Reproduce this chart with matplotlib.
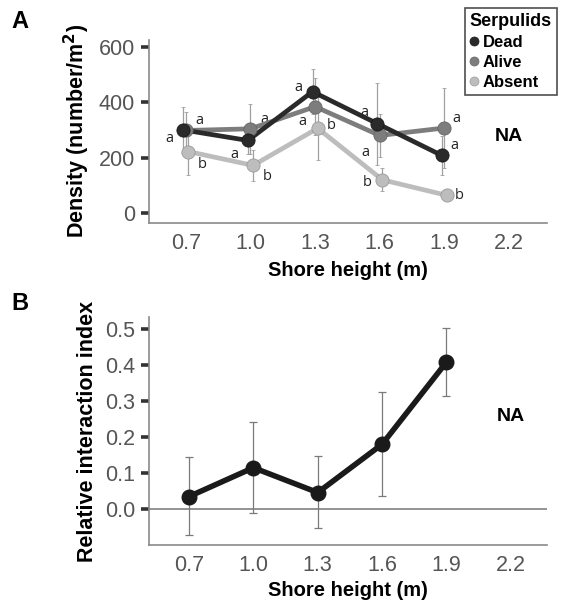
import matplotlib
matplotlib.use("Agg")
import matplotlib.pyplot as plt
from matplotlib.lines import Line2D

plt.rcParams['font.family'] = ['Liberation Sans', 'DejaVu Sans']

# shore heights (m)
heights = [0.7, 1.0, 1.3, 1.6, 1.9]
tick_heights = [0.7, 1.0, 1.3, 1.6, 1.9, 2.2]

# panel A: density (number/m2) and error
dead = [300, 262, 438, 323, 208]
dead_err = [82, 50, 82, 148, 70]
alive = [298, 304, 384, 280, 307]
alive_err = [66, 90, 102, 78, 145]
absent = [222, 172, 306, 120, 64]
absent_err = [85, 57, 114, 42, 6]

dead_letters = ['a', 'a', 'a', 'a', 'a']
alive_letters = ['a', 'a', 'a', 'a', 'a']
absent_letters = ['b', 'b', 'b', 'b', 'b']

# panel B: relative interaction index with lower / upper error bounds
rii = [0.035, 0.115, 0.046, 0.180, 0.408]
rii_low = [-0.071, -0.012, -0.053, 0.037, 0.313]
rii_high = [0.144, 0.241, 0.148, 0.324, 0.503]

# label offsets in points (style only)
dead_off = [(-10, -6), (-10, -10), (-10, 3), (-9, 8), (9, 7)]
alive_off = [(10, 7), (10, 7), (-9, -11), (-10, -12), (9, 7)]
absent_off = [(10, -9), (10, -8), (10, 2), (-11, -2), (9, 0)]

fig = plt.figure(figsize=(5.7, 6.03), dpi=100)
ax1 = fig.add_axes([0.261, 0.630, 0.699, 0.304])
ax2 = fig.add_axes([0.261, 0.096, 0.699, 0.378])

spine_col = '#8a8a8a'
tick_lbl = '#555555'

series = [
    ('Dead', dead, dead_err, dead_letters, dead_off, '#2a2a2a', '#1a1a1a', -0.012),
    ('Alive', alive, alive_err, alive_letters, alive_off, '#7d7d7d', '#666666', 0.0),
    ('Absent', absent, absent_err, absent_letters, absent_off, '#bdbdbd', '#9a9a9a', 0.012),
]

# error bars first (behind lines)
for name, vals, errs, letters, offs, col, edge, dx in series:
    xs = [h + dx for h in heights]
    ax1.errorbar(xs, vals, yerr=errs, fmt='none', ecolor='#a0a0a0',
                 elinewidth=0.9, capsize=1.5, capthick=0.6, zorder=1)

for i, (name, vals, errs, letters, offs, col, edge, dx) in enumerate(series):
    xs = [h + dx for h in heights]
    ax1.plot(xs, vals, '-', color=col, lw=3.4, zorder=4 - i * 0.5)
    ax1.plot(xs, vals, 'o', color=col, mec=edge, mew=0.6, ms=9.5, zorder=5 - i * 0.5)
    for x, v, t, o in zip(xs, vals, letters, offs):
        ax1.annotate(t, (x, v), xytext=o, textcoords='offset points',
                     ha='center', va='center', fontsize=10.5,
                     family=['Open Sans', 'DejaVu Sans'], color='#222222')

ax1.text(2.2, 275, 'NA', ha='center', va='center', fontsize=14, fontweight='bold')

ax1.set_xlim(0.528, 2.377)
ax1.set_ylim(-36, 625)
ax1.set_yticks([0, 200, 400, 600])
ax1.set_xticks(tick_heights)
ax1.set_xticklabels([f'{h:.1f}' for h in tick_heights])
ax1.set_ylabel('Density (number/m$^\\mathbf{2}$)', fontsize=15.5, fontweight='bold', labelpad=5)
ax1.set_xlabel('Shore height (m)', fontsize=14.5, fontweight='bold', labelpad=5)

# panel B
yerr = [[r - lo for r, lo in zip(rii, rii_low)], [hi - r for r, hi in zip(rii, rii_high)]]
ax2.axhline(0, color='#808080', lw=1.2, zorder=1)
ax2.errorbar(heights, rii, yerr=yerr, fmt='none', ecolor='#7a7a7a',
             elinewidth=0.9, capsize=3, capthick=0.9, zorder=2)
ax2.plot(heights, rii, '-o', color='#1a1a1a', lw=4, ms=10.5, zorder=3)
ax2.text(2.2, 0.256, 'NA', ha='center', va='center', fontsize=14, fontweight='bold')

ax2.set_xlim(0.512, 2.37)
ax2.set_ylim(-0.1, 0.533)
ax2.set_yticks([0.0, 0.1, 0.2, 0.3, 0.4, 0.5])
ax2.set_yticklabels([f'{v:.1f}' for v in [0.0, 0.1, 0.2, 0.3, 0.4, 0.5]])
ax2.set_xticks(tick_heights)
ax2.set_xticklabels([f'{h:.1f}' for h in tick_heights])
ax2.set_ylabel('Relative interaction index', fontsize=15.5, fontweight='bold', labelpad=5)
ax2.set_xlabel('Shore height (m)', fontsize=14.5, fontweight='bold', labelpad=4)

for ax in (ax1, ax2):
    for s in ('top', 'right'):
        ax.spines[s].set_visible(False)
    for s in ('left', 'bottom'):
        ax.spines[s].set_color(spine_col)
        ax.spines[s].set_linewidth(1.2)
    ax.tick_params(axis='y', length=6, width=2.6, color='#333333',
                   labelsize=15.5, labelcolor=tick_lbl, pad=4)
    ax.tick_params(axis='x', length=0, labelsize=15.5, labelcolor=tick_lbl, pad=7)

fig.text(0.02, 0.965, 'A', fontsize=17, fontweight='bold', ha='left', va='center')
fig.text(0.02, 0.497, 'B', fontsize=17, fontweight='bold', ha='left', va='center')

handles = [Line2D([], [], ls='none', marker='o', ms=6.5, color=c, mec=e, mew=0.5)
           for _, _, _, _, _, c, e, _ in series]
leg = fig.legend(handles, ['Dead', 'Alive', 'Absent'], title='Serpulids',
                 loc='upper left', bbox_to_anchor=(0.815, 0.987),
                 frameon=True, fancybox=False, edgecolor='#222222',
                 prop={'weight': 'bold', 'size': 12}, handlelength=0.5,
                 handletextpad=0.3, labelspacing=0.3, borderpad=0.3,
                 borderaxespad=0)
leg.get_title().set_fontweight('bold')
leg.get_title().set_fontsize(13)
leg._legend_box.align = 'left'
leg.get_frame().set_linewidth(1.2)

fig.savefig('out.png', dpi=100)
